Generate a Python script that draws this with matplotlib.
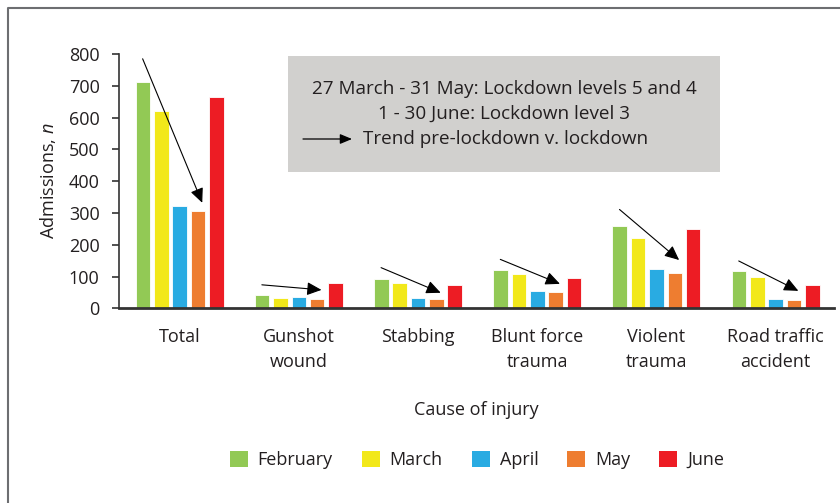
import matplotlib.pyplot as plt
import matplotlib.lines as mlines
import matplotlib.patches as mpatches
import numpy as np

plt.rcParams['font.family'] = ['Open Sans', 'DejaVu Sans']
plt.rcParams['mathtext.fontset'] = 'custom'
plt.rcParams['mathtext.it'] = 'Open Sans:italic'
plt.rcParams['mathtext.rm'] = 'Open Sans'

text_color = '#231F20'
fs = 13

# Data
categories = ['Total', 'Gunshot\nwound', 'Stabbing', 'Blunt force\ntrauma',
              'Violent\ntrauma', 'Road traffic\naccident']
months = ['February', 'March', 'April', 'May', 'June']
february = [712, 43, 93, 120, 260, 116]
march = [620, 33, 79, 108, 222, 98]
april = [322, 35, 33, 53, 125, 28]
may = [305, 29, 29, 50, 111, 25]
june = [665, 79, 72, 95, 250, 72]
month_colors = ['#92C955', '#F2E81A', '#29ABE2', '#EE7D30', '#ED1C24']

# Trend arrows (pre-lockdown -> lockdown), values in admissions
arrow_start = [785, 74, 128, 154, 311, 149]
arrow_end = [332, 58, 49, 77, 152, 55]

series = [february, march, april, may, june]

fig = plt.figure(figsize=(8.4, 5.03), dpi=100)
ax = fig.add_axes([0.1417, 0.387, 0.8513, 0.5056])

x = np.arange(len(categories))
step = 0.154
width = 0.122
for i, (vals, col, name) in enumerate(zip(series, month_colors, months)):
    ax.bar(x + (i - 2) * step, vals, width=width, color=col,
           edgecolor='white', linewidth=0.6, label=name)

# Trend arrows
for xi, y0, y1 in zip(x, arrow_start, arrow_end):
    ax.annotate('', xy=(xi + 0.19, y1), xytext=(xi - 0.31, y0),
                arrowprops=dict(arrowstyle='-|>,head_length=0.55,head_width=0.25',
                                color='black', lw=0.8,
                                mutation_scale=16, shrinkA=0, shrinkB=0))

ax.set_xlim(-0.508, 5.49)
ax.set_ylim(0, 800)
ax.set_yticks(range(0, 801, 100))
ax.set_xticks(x)
ax.set_xticklabels(categories, fontsize=fs, color=text_color, linespacing=1.5)
ax.tick_params(axis='x', length=0, pad=14)
ax.tick_params(axis='y', length=5, width=1.2, color='#333333', labelsize=fs,
               labelcolor=text_color, pad=9)
for s in ['top', 'right']:
    ax.spines[s].set_visible(False)
ax.spines['left'].set_color('#333333')
ax.spines['left'].set_linewidth(1.2)
ax.spines['bottom'].set_color('#333333')
ax.spines['bottom'].set_linewidth(2)

ax.set_ylabel('Admissions, $\\it{n}$', fontsize=fs, color=text_color, labelpad=8)
ax.set_xlabel('Cause of injury', fontsize=fs, color=text_color, labelpad=22)

# Grey annotation box
box = mpatches.Rectangle((288 / 840, 1 - 172 / 503), (720 - 288) / 840, (172 - 56) / 503,
                         transform=fig.transFigure, facecolor='#D1D0CE', edgecolor='none')
fig.patches.append(box)
fig.text(504 / 840, 1 - 89 / 503, '27 March - 31 May: Lockdown levels 5 and 4',
         ha='center', va='center', fontsize=13.6, color=text_color)
fig.text(504 / 840, 1 - 114 / 503, '1 - 30 June: Lockdown level 3',
         ha='center', va='center', fontsize=13.6, color=text_color)
fig.text(363 / 840, 1 - 139 / 503, 'Trend pre-lockdown v. lockdown',
         ha='left', va='center', fontsize=13.6, color=text_color)
fig.patches.append(mpatches.FancyArrowPatch((303 / 840, 1 - 139 / 503), (352 / 840, 1 - 139 / 503),
                                            transform=fig.transFigure,
                                            arrowstyle='-|>,head_length=0.6,head_width=0.25',
                                            mutation_scale=12, color='black', lw=0.9,
                                            shrinkA=0, shrinkB=0))

# Legend
handles = [mpatches.Patch(facecolor=c, edgecolor='none', label=m)
           for c, m in zip(month_colors, months)]
fig.legend(handles=handles, loc='center', bbox_to_anchor=(477 / 840, 1 - 460 / 503),
           ncol=5, frameon=False, fontsize=fs, handlelength=1.0, handleheight=1.0,
           columnspacing=1.6, handletextpad=0.55, labelcolor=text_color)

# Outer frame (top and left edges)
fig.add_artist(mlines.Line2D([8 / 840, 8 / 840, 1], [0, 1 - 8 / 503, 1 - 8 / 503],
                             transform=fig.transFigure, color='#6D6E71', lw=1.5))

fig.savefig('out.png', dpi=100, facecolor='white')
